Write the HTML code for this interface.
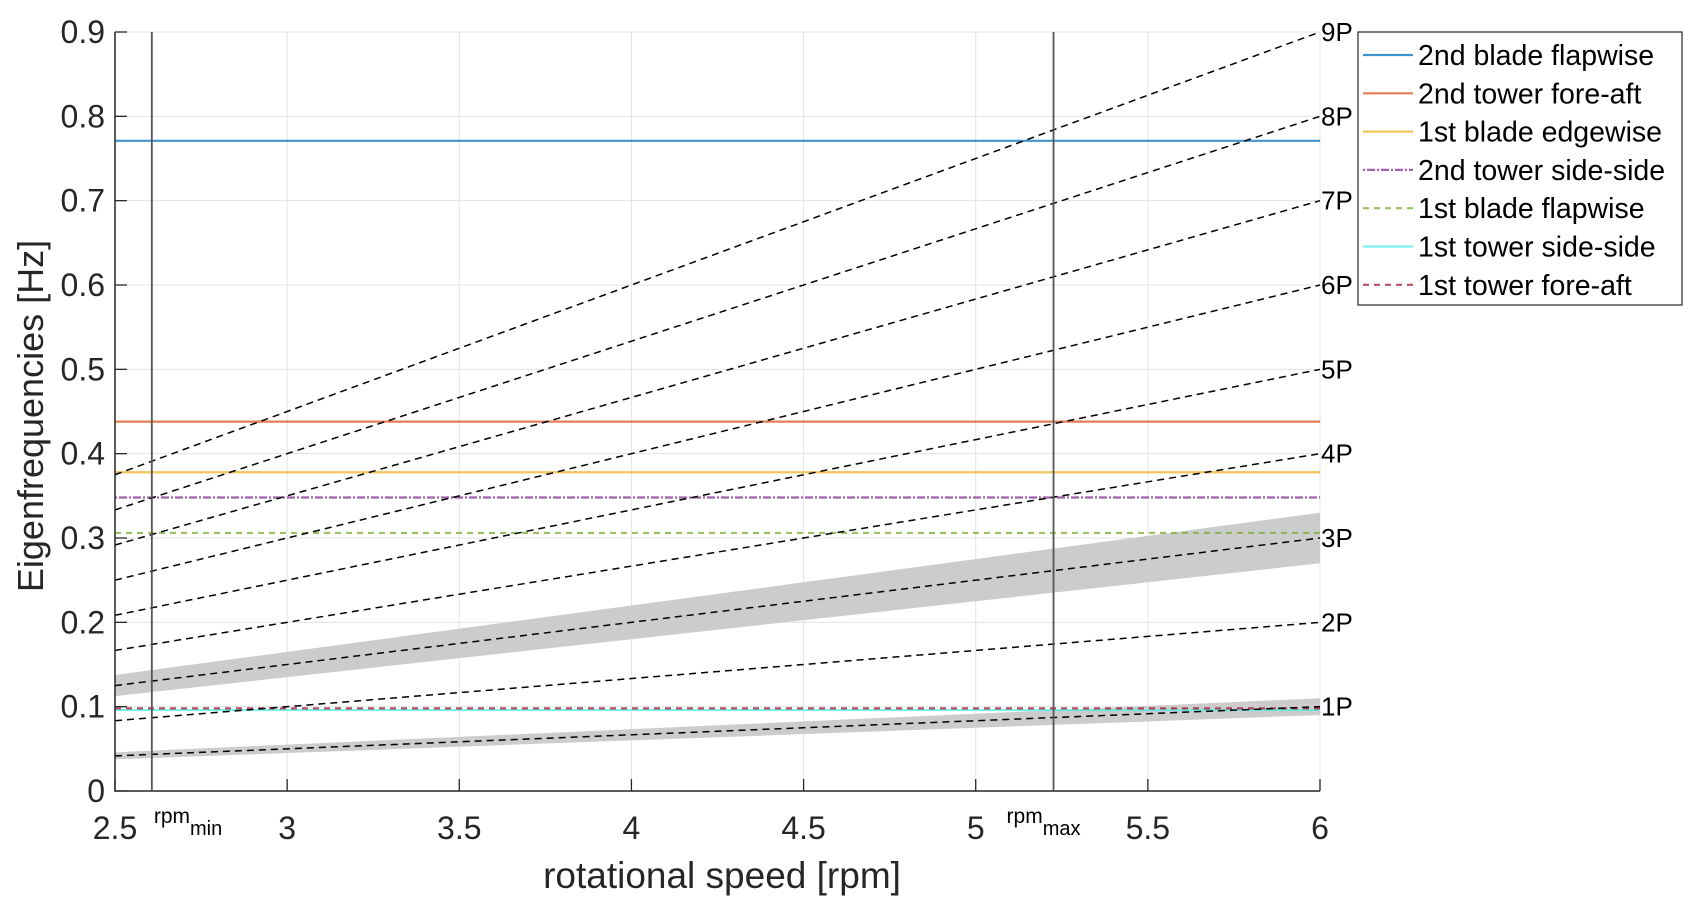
<!DOCTYPE html>
<html><head><meta charset="utf-8"><style>
html,body{margin:0;padding:0;background:#fff;}
svg{display:block;font-family:"Liberation Sans",Arial,sans-serif;}
</style></head><body>
<svg id="chart" width="1707" height="911" viewBox="0 0 1707 911">
<g id="grid"></g>
<g id="bands"></g>
<g id="modes"></g>
<g id="harm"></g>
<g id="axes"></g>
<text x="722" y="888" font-size="37" text-anchor="middle" fill="#262626">rotational speed [rpm]</text>
<text transform="translate(43,416) rotate(-90)" font-size="36" text-anchor="middle" fill="#262626">Eigenfrequencies [Hz]</text>
<g id="legend"></g>
</svg>
<script>
const xTicks=[2.5,3,3.5,4,4.5,5,5.5,6];
const yTicks=[0,0.1,0.2,0.3,0.4,0.5,0.6,0.7,0.8,0.9];
const harmonics=[1,2,3,4,5,6,7,8,9];
const bandHarmonics=[1,3];
const bandWidth=0.1;
const rpmLimits=[2.607,5.226];
const modeNames=["2nd blade flapwise","2nd tower fore-aft","1st blade edgewise","2nd tower side-side","1st blade flapwise","1st tower side-side","1st tower fore-aft"];
const modeFreqs=[0.771,0.438,0.378,0.348,0.306,0.096,0.098];
const modeColors=["#0072BD","#D95319","#EDB120","#7E2F8E","#77AC30","#4DEEEA","#A2142F"];
const modeDash=["","","","2 2 8 2","6 5","","6 5"];

const X0=115,X1=1320,Y0=791,Y1=32;
const xs=v=>X0+(v-2.5)/(6-2.5)*(X1-X0);
const ys=v=>Y0-(v/0.9)*(Y0-Y1);
const NS="http://www.w3.org/2000/svg";
function mk(parent,tag,attrs){const e=document.createElementNS(NS,tag);for(const k in attrs)e.setAttribute(k,attrs[k]);parent.appendChild(e);return e;}
const grid=document.getElementById('grid'),axes=document.getElementById('axes'),bands=document.getElementById('bands'),modes=document.getElementById('modes'),harm=document.getElementById('harm'),legend=document.getElementById('legend');

xTicks.forEach(t=>{
  const g=mk(grid,'line',{x1:xs(t),x2:xs(t),y1:Y0,y2:Y1,stroke:'#e3e3e3','stroke-width':1});
  
  const tk=mk(axes,'line',{x1:xs(t),x2:xs(t),y1:Y0,y2:Y0-12,stroke:'#262626','stroke-width':1.3});
  
  const tx=mk(axes,'text',{x:xs(t),y:839,'font-size':32,'text-anchor':'middle',fill:'#262626'});
  tx.textContent=String(t);
  
});
yTicks.forEach(t=>{
  const g=mk(grid,'line',{x1:X0,x2:X1,y1:ys(t),y2:ys(t),stroke:'#e3e3e3','stroke-width':1});
  
  const tk=mk(axes,'line',{x1:X0,x2:X0+12,y1:ys(t),y2:ys(t),stroke:'#262626','stroke-width':1.3});
  
  const tx=mk(axes,'text',{x:X0-10,y:ys(t)+11,'font-size':32,'text-anchor':'end',fill:'#262626'});
  tx.textContent=String(t);
  
});
const ax=mk(axes,'path',{d:`M${X0},${Y1}V${Y0}H${X1}`,fill:'none',stroke:'#262626','stroke-width':1.5});


bandHarmonics.forEach(n=>{
  const f=r=>n*r/60;
  const d=`M${xs(2.5)},${ys(f(2.5)*(1+bandWidth))}L${xs(6)},${ys(f(6)*(1+bandWidth))}L${xs(6)},${ys(f(6)*(1-bandWidth))}L${xs(2.5)},${ys(f(2.5)*(1-bandWidth))}Z`;
  const p=mk(bands,'path',{d,fill:'#cccccc'});
  
});
modeFreqs.forEach((f,i)=>{
  const l=mk(modes,'line',{x1:X0,x2:X1,y1:ys(f),y2:ys(f),stroke:modeColors[i],'stroke-width':2.2,'stroke-opacity':0.75});
  if(modeDash[i])l.setAttribute('stroke-dasharray',modeDash[i]);
  
});
harmonics.forEach(n=>{
  const l=mk(harm,'line',{x1:xs(2.5),x2:xs(6),y1:ys(n*2.5/60),y2:ys(n*6/60),stroke:'#000','stroke-width':1.5,'stroke-dasharray':'7 5'});
  
  const t=mk(harm,'text',{x:X1+1,y:ys(n*6/60)+9,'font-size':26,fill:'#000'});
  t.textContent=n+'P';
  
});
const lnames=['rpm_min','rpm_max'];
const labelOffsets=[2,-47];
rpmLimits.forEach((r,i)=>{
  const l=mk(axes,'line',{x1:xs(r),x2:xs(r),y1:Y1,y2:Y0,stroke:'#555','stroke-width':1.8});
  
  const t=mk(axes,'text',{x:xs(r)+labelOffsets[i],y:823,'font-size':21,fill:'#000'});
  t.innerHTML='rpm<tspan dy="12" font-size="20">'+(i?'max':'min')+'</tspan>';
  
});

const box=mk(legend,'rect',{x:1358,y:32,width:324,height:273,fill:'#fff',stroke:'#262626','stroke-width':1.2});

modeNames.forEach((nm,i)=>{
  const y=55+i*38.3;
  const l=mk(legend,'line',{x1:1363,x2:1413,y1:y,y2:y,stroke:modeColors[i],'stroke-width':2.2,'stroke-opacity':0.75});
  if(modeDash[i])l.setAttribute('stroke-dasharray',modeDash[i]);
  
  const t=mk(legend,'text',{x:1418,y:y+10,'font-size':28.5,fill:'#000'});
  t.textContent=nm;
  
});
</script>
</body></html>
